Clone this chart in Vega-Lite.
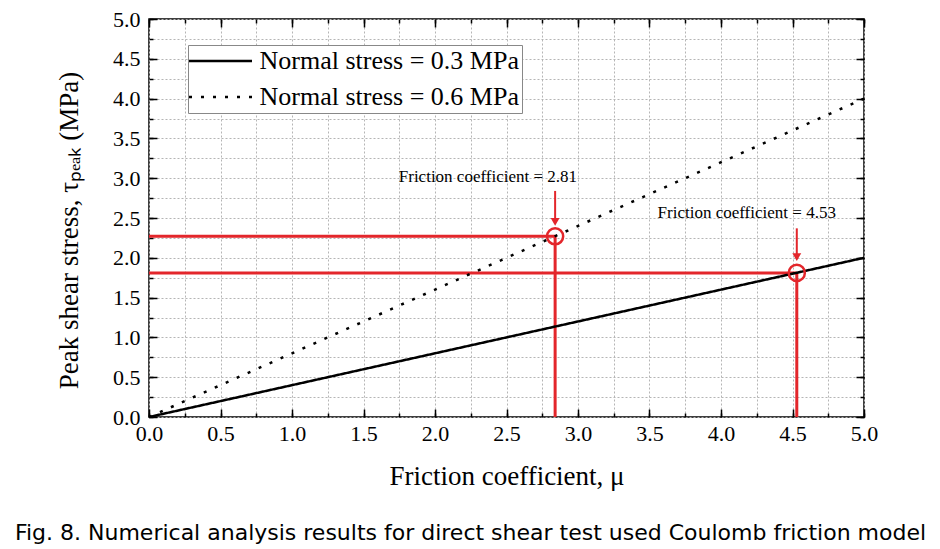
{
  "$schema": "https://vega.github.io/schema/vega-lite/v6.json",
  "width": 715,
  "height": 398,
  "autosize": {"type": "none"},
  "padding": {"left": 149, "top": 19, "right": 76, "bottom": 132},
  "background": "white",
  "config": {"view": {"stroke": "black", "strokeWidth": 1.5}, "font": "Liberation Serif"},
  "title": {
    "text": "Fig. 8. Numerical analysis results for direct shear test used Coulomb friction model",
    "orient": "bottom",
    "anchor": "middle",
    "font": "DejaVu Sans",
    "fontSize": 22,
    "fontWeight": "normal",
    "color": "black",
    "offset": 34,
    "dx": -36
  },
  "datasets": {
    "lines": [
      {"mu": 0, "tau": 0, "series": "Normal stress = 0.3 MPa"},
      {"mu": 5, "tau": 2.0, "series": "Normal stress = 0.3 MPa"},
      {"mu": 0, "tau": 0, "series": "Normal stress = 0.6 MPa"},
      {"mu": 5, "tau": 4.0, "series": "Normal stress = 0.6 MPa"}
    ],
    "red": [
      {"x": 0, "x2": 2.84, "y": 2.27, "y2": 2.27},
      {"x": 2.84, "x2": 2.84, "y": 0, "y2": 2.27},
      {"x": 0, "x2": 4.53, "y": 1.81, "y2": 1.81},
      {"x": 4.53, "x2": 4.53, "y": 0, "y2": 1.81}
    ],
    "arrows": [
      {"x": 2.84, "y": 2.84, "y2": 2.45},
      {"x": 4.53, "y": 2.37, "y2": 2.01}
    ],
    "circles": [
      {"x": 2.84, "y": 2.27},
      {"x": 4.53, "y": 1.81}
    ],
    "labels": [
      {"x": 2.37, "y": 3.01, "text": "Friction coefficient = 2.81"},
      {"x": 4.18, "y": 2.56, "text": "Friction coefficient = 4.53"}
    ]
  },
  "layer": [
    {
      "data": {"name": "lines"},
      "mark": {"type": "line", "opacity": 0},
      "encoding": {
        "x": {"field": "mu", "type": "quantitative", "scale": {"domain": [0, 5], "nice": false},
          "axis": {"orient": "bottom", "values": [0,0.25,0.5,0.75,1,1.25,1.5,1.75,2,2.25,2.5,2.75,3,3.25,3.5,3.75,4,4.25,4.5,4.75,5],
            "labels": false, "title": null, "grid": true, "gridColor": "#b5b5b5", "gridDash": [2, 2], "gridWidth": 1,
            "domain": false, "tickColor": "black", "tickWidth": 1.5, "tickSize": -4}},
        "y": {"field": "tau", "type": "quantitative", "scale": {"domain": [0, 5], "nice": false},
          "axis": {"orient": "left", "values": [0,0.25,0.5,0.75,1,1.25,1.5,1.75,2,2.25,2.5,2.75,3,3.25,3.5,3.75,4,4.25,4.5,4.75,5],
            "labels": false, "title": null, "grid": true, "gridColor": "#b5b5b5", "gridDash": [2, 2], "gridWidth": 1,
            "domain": false, "tickColor": "black", "tickWidth": 1.5, "tickSize": -4}}
      }
    },
    {
      "data": {"name": "lines"},
      "mark": {"type": "line", "opacity": 0},
      "encoding": {
        "x": {"field": "mu", "type": "quantitative",
          "axis": {"orient": "top", "values": [0,0.25,0.5,0.75,1,1.25,1.5,1.75,2,2.25,2.5,2.75,3,3.25,3.5,3.75,4,4.25,4.5,4.75,5],
            "labels": false, "title": null, "grid": false, "domain": false, "tickColor": "black", "tickWidth": 1.5, "tickSize": -4}},
        "y": {"field": "tau", "type": "quantitative",
          "axis": {"orient": "right", "values": [0,0.25,0.5,0.75,1,1.25,1.5,1.75,2,2.25,2.5,2.75,3,3.25,3.5,3.75,4,4.25,4.5,4.75,5],
            "labels": false, "title": null, "grid": false, "domain": false, "tickColor": "black", "tickWidth": 1.5, "tickSize": -4}}
      }
    },
    {
      "data": {"name": "lines"},
      "mark": {"type": "line", "opacity": 0},
      "encoding": {
        "x": {"field": "mu", "type": "quantitative",
          "axis": {"orient": "top", "values": [0,0.5,1,1.5,2,2.5,3,3.5,4,4.5,5],
            "labels": false, "title": null, "grid": false, "domain": false, "tickColor": "black", "tickWidth": 1.5, "tickSize": -8}},
        "y": {"field": "tau", "type": "quantitative",
          "axis": {"orient": "right", "values": [0,0.5,1,1.5,2,2.5,3,3.5,4,4.5,5],
            "labels": false, "title": null, "grid": false, "domain": false, "tickColor": "black", "tickWidth": 1.5, "tickSize": -8}}
      }
    },
    {
      "data": {"name": "red"},
      "mark": {"type": "rule", "color": "#e3262b", "strokeWidth": 3},
      "encoding": {
        "x": {"field": "x", "type": "quantitative", "axis": null},
        "x2": {"field": "x2"},
        "y": {"field": "y", "type": "quantitative", "axis": null},
        "y2": {"field": "y2"}
      }
    },
    {
      "data": {"name": "lines"},
      "mark": {"type": "line", "color": "black", "strokeWidth": 2.5},
      "encoding": {
        "x": {"field": "mu", "type": "quantitative",
          "axis": {"orient": "bottom", "values": [0,0.5,1,1.5,2,2.5,3,3.5,4,4.5,5], "format": ".1f",
            "labelFont": "Liberation Serif", "labelFontSize": 22, "labelColor": "black", "labelPadding": 14,
            "labelFlush": false, "labelOverlap": false,
            "title": "Friction coefficient, μ", "titleFont": "Liberation Serif", "titleFontSize": 27, "titleFontWeight": "normal",
            "titleColor": "black", "titlePadding": 19,
            "grid": false, "domain": false, "tickColor": "black", "tickWidth": 1.5, "tickSize": -8}},
        "y": {"field": "tau", "type": "quantitative",
          "axis": {"orient": "left", "values": [0,0.5,1,1.5,2,2.5,3,3.5,4,4.5,5], "format": ".1f",
            "labelFont": "Liberation Serif", "labelFontSize": 22, "labelColor": "black", "labelPadding": 17,
            "labelFlush": false, "labelOverlap": false,
            "title": "Peak shear stress, τₚₑₐₖ (MPa)", "titleFont": "Liberation Serif", "titleFontSize": 27, "titleFontWeight": "normal",
            "titleColor": "black", "titlePadding": 29, "titleY": 211,
            "grid": false, "domain": false, "tickColor": "black", "tickWidth": 1.5, "tickSize": -8}},
        "strokeDash": {"field": "series", "type": "nominal",
          "scale": {"domain": ["Normal stress = 0.3 MPa", "Normal stress = 0.6 MPa"], "range": [[1, 0], [3, 9]]},
          "legend": {"orient": "none", "legendX": 39, "legendY": 26, "title": null,
            "strokeColor": "#888", "fillColor": "white", "padding": 3,
            "labelFont": "Liberation Serif", "labelFontSize": 26, "labelColor": "black", "labelLimit": 0,
            "symbolType": "M-3,0H3", "symbolSize": 441, "symbolOffset": 16.5, "symbolStrokeWidth": 2.5,
            "symbolStrokeColor": "black", "symbolFillColor": "transparent",
            "rowPadding": 10, "labelOffset": 26}}
      }
    },
    {
      "data": {"name": "arrows"},
      "mark": {"type": "rule", "color": "#e3262b", "strokeWidth": 2},
      "encoding": {
        "x": {"field": "x", "type": "quantitative", "axis": null},
        "y": {"field": "y", "type": "quantitative", "axis": null},
        "y2": {"field": "y2"}
      }
    },
    {
      "data": {"name": "arrows"},
      "mark": {"type": "point", "shape": "triangle-down", "filled": true, "color": "#e3262b", "size": 80, "opacity": 1},
      "encoding": {
        "x": {"field": "x", "type": "quantitative", "axis": null},
        "y": {"field": "y2", "type": "quantitative", "axis": null}
      }
    },
    {
      "data": {"name": "circles"},
      "mark": {"type": "point", "shape": "circle", "filled": false, "color": "#e3262b", "size": 260, "strokeWidth": 2.5, "opacity": 1},
      "encoding": {
        "x": {"field": "x", "type": "quantitative", "axis": null},
        "y": {"field": "y", "type": "quantitative", "axis": null}
      }
    },
    {
      "data": {"name": "labels"},
      "mark": {"type": "text", "font": "Liberation Serif", "fontSize": 17, "color": "black", "align": "center", "baseline": "middle"},
      "encoding": {
        "x": {"field": "x", "type": "quantitative", "axis": null},
        "y": {"field": "y", "type": "quantitative", "axis": null},
        "text": {"field": "text", "type": "nominal"}
      }
    }
  ],
  "resolve": {"axis": {"x": "independent", "y": "independent"}}
}
